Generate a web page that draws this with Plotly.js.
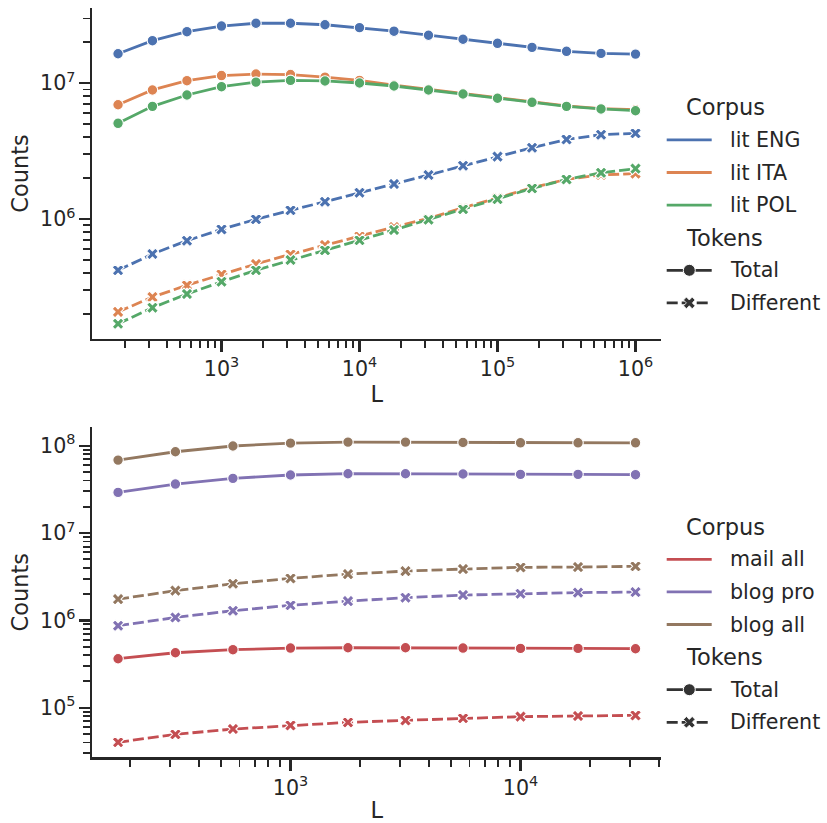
<!DOCTYPE html>
<html><head><meta charset="utf-8">
<script src="https://cdn.plot.ly/plotly-3.0.1.min.js"></script>
<style>html,body{margin:0;padding:0;background:#fff}#chart{width:827px;height:823px}</style>
</head><body><div id="chart"></div>
<script>
// ---------- data ----------
const L_top = [178, 316, 562, 1000, 1778, 3162, 5623, 10000, 17783, 31623, 56234, 100000, 177828, 316228, 562341, 1000000];
const litEngTotal = [1.65e7, 2.06e7, 2.40e7, 2.64e7, 2.77e7, 2.77e7, 2.70e7, 2.57e7, 2.42e7, 2.26e7, 2.11e7, 1.97e7, 1.84e7, 1.72e7, 1.66e7, 1.64e7];
const litItaTotal = [6.95e6, 8.93e6, 1.045e7, 1.14e7, 1.17e7, 1.16e7, 1.11e7, 1.05e7, 9.67e6, 9.0e6, 8.38e6, 7.79e6, 7.28e6, 6.81e6, 6.51e6, 6.40e6];
const litPolTotal = [5.07e6, 6.76e6, 8.2e6, 9.44e6, 1.02e7, 1.05e7, 1.04e7, 1.005e7, 9.55e6, 8.93e6, 8.34e6, 7.75e6, 7.24e6, 6.76e6, 6.47e6, 6.28e6];
const litEngDiff = [4.19e5, 5.52e5, 6.92e5, 8.39e5, 9.95e5, 1.16e6, 1.34e6, 1.56e6, 1.81e6, 2.11e6, 2.47e6, 2.88e6, 3.35e6, 3.86e6, 4.18e6, 4.28e6];
const litItaDiff = [2.07e5, 2.66e5, 3.25e5, 3.91e5, 4.66e5, 5.49e5, 6.43e5, 7.45e5, 8.73e5, 1.01e6, 1.21e6, 1.43e6, 1.70e6, 1.96e6, 2.11e6, 2.16e6];
const litPolDiff = [1.69e5, 2.22e5, 2.80e5, 3.45e5, 4.19e5, 4.99e5, 5.88e5, 6.97e5, 8.3e5, 9.88e5, 1.18e6, 1.40e6, 1.68e6, 1.96e6, 2.19e6, 2.35e6];

const L_bot = [178, 316, 562, 1000, 1778, 3162, 5623, 10000, 17783, 31623];
const mailAllTotal = [3.64e5, 4.26e5, 4.62e5, 4.82e5, 4.86e5, 4.86e5, 4.82e5, 4.78e5, 4.78e5, 4.74e5];
const blogProTotal = [2.92e7, 3.64e7, 4.23e7, 4.62e7, 4.78e7, 4.78e7, 4.74e7, 4.70e7, 4.70e7, 4.66e7];
const blogAllTotal = [6.85e7, 8.53e7, 9.93e7, 1.07e8, 1.10e8, 1.10e8, 1.09e8, 1.08e8, 1.08e8, 1.08e8];
const mailAllDiff = [4.02e4, 4.96e4, 5.70e4, 6.28e4, 6.80e4, 7.17e4, 7.57e4, 7.90e4, 8.04e4, 8.18e4];
const blogProDiff = [8.69e5, 1.08e6, 1.29e6, 1.49e6, 1.66e6, 1.82e6, 1.95e6, 2.02e6, 2.08e6, 2.11e6];
const blogAllDiff = [1.75e6, 2.19e6, 2.63e6, 3.03e6, 3.39e6, 3.67e6, 3.87e6, 4.05e6, 4.08e6, 4.16e6];

const corporaTop = ['lit ENG', 'lit ITA', 'lit POL'];
const corporaBot = ['mail all', 'blog pro', 'blog all'];
const tokenLabels = ['Total', 'Different'];
const legendTitles = ['Corpus', 'Tokens'];
const xLabel = 'L';
const yLabel = 'Counts';

// ---------- styles ----------
const W = 827, H = 823;
const TXT = '#262626';
const FONT = 'DejaVu Sans';
const colTop = ['#4C72B0', '#DD8452', '#55A868'];
const colBot = ['#C44E52', '#8172B3', '#937860'];
const LW = 2.8, MS = 10.5, DASH = '11px,4px';
const px = x => x / W;
const py = y => 1 - y / H;

function series(x, y, color, kind, xa, ya) {
  const diff = kind === 1;
  return {
    x: x, y: y, xaxis: xa, yaxis: ya, type: 'scatter', mode: 'lines+markers', showlegend: false,
    line: {color: color, width: LW, dash: diff ? DASH : 'solid'},
    marker: {symbol: diff ? 'x' : 'circle', size: MS, color: color, line: {color: '#ffffff', width: 1.1}},
    hoverinfo: 'x+y'
  };
}

const topTot = [litEngTotal, litItaTotal, litPolTotal];
const topDif = [litEngDiff, litItaDiff, litPolDiff];
const botTot = [mailAllTotal, blogProTotal, blogAllTotal];
const botDif = [mailAllDiff, blogProDiff, blogAllDiff];

const traces = [];
for (let i = 0; i < 3; i++) {
  traces.push(series(L_top, topTot[i], colTop[i], 0, 'x', 'y'));
  traces.push(series(L_top, topDif[i], colTop[i], 1, 'x', 'y'));
}
for (let i = 0; i < 3; i++) {
  traces.push(series(L_bot, botTot[i], colBot[i], 0, 'x2', 'y2'));
  traces.push(series(L_bot, botDif[i], colBot[i], 1, 'x2', 'y2'));
}

function axis(domain, range, anchor, title, standoff) {
  return {
    domain: domain, range: range, type: 'log', anchor: anchor,
    showline: true, linecolor: TXT, linewidth: 2.3, mirror: false,
    showgrid: false, zeroline: false,
    ticks: 'outside', ticklen: 11, tickwidth: 2.3, tickcolor: TXT,
    tick0: 0, dtick: 1, exponentformat: 'power', showexponent: 'all',
    tickfont: {family: FONT, size: 16.5, color: TXT},
    minor: {ticks: 'outside', ticklen: 7, tickwidth: 1.9, tickcolor: TXT, dtick: 'D1', showgrid: false},
    title: {text: title, font: {family: FONT, size: 22.5, color: TXT}, standoff: standoff},
    automargin: false, fixedrange: true
  };
}

const XD = [px(92.1), px(661.4)];
const layout = {
  width: W, height: H,
  margin: {l: 0, r: 0, t: 0, b: 0, pad: 0},
  paper_bgcolor: '#ffffff', plot_bgcolor: '#ffffff',
  font: {family: FONT, color: TXT},
  showlegend: false,
  xaxis: axis(XD, [2.0625, 6.1875], 'y', xLabel, 5),
  yaxis: axis([py(338.8), py(8.2)], [5.1173, 7.5532], 'x', yLabel, 5),
  xaxis2: axis(XD, [2.1375, 4.6125], 'y2', xLabel, 5),
  yaxis2: axis([py(757.3), py(427.1)], [4.4323, 8.2133], 'x2', yLabel, 5),
  shapes: [], annotations: []
};

// ---------- hand-built legends (seaborn style) ----------
function addText(txt, x, y, size) {
  layout.annotations.push({xref: 'paper', yref: 'paper', x: px(x), y: py(y), xanchor: 'left', yanchor: 'middle',
    text: txt, showarrow: false, font: {family: FONT, size: size, color: TXT}, borderpad: 0});
}
function addLine(y, color, dash) {
  layout.shapes.push({type: 'line', xref: 'paper', yref: 'paper', x0: px(666.7), x1: px(711.7), y0: py(y), y1: py(y),
    line: {color: color, width: LW, dash: dash}});
}
function addCircle(y) {
  const r = 6;
  layout.shapes.push({type: 'circle', xref: 'paper', yref: 'paper', xsizemode: 'pixel', ysizemode: 'pixel',
    xanchor: px(689.3), yanchor: py(y), x0: -r, x1: r, y0: -r, y1: r,
    fillcolor: '#333333', line: {color: '#ffffff', width: 1.0}});
}
function addX(y) {
  const s = 2.9;
  const pts = [[-1,-2],[0,-1],[1,-2],[2,-1],[1,0],[2,1],[1,2],[0,1],[-1,2],[-2,1],[-1,0],[-2,-1]];
  const path = 'M' + pts.map(p => (p[0]*s).toFixed(2) + ',' + (p[1]*s).toFixed(2)).join('L') + 'Z';
  layout.shapes.push({type: 'path', xref: 'paper', yref: 'paper', xsizemode: 'pixel', ysizemode: 'pixel',
    xanchor: px(689.3), yanchor: py(y), path: path,
    fillcolor: '#333333', line: {color: '#ffffff', width: 0.8}});
}
function legend(top, names, colors) {
  const step = 32.6;
  addText(legendTitles[0], 685, top, 22.5);
  for (let i = 0; i < 3; i++) {
    const y = top + step * (i + 1);
    addLine(y, colors[i], 'solid');
    addText(names[i], 729.3, y, 20.6);
  }
  const t2 = top + step * 4;
  addText(legendTitles[1], 685, t2, 22.5);
  addLine(t2 + step, '#333333', 'solid');
  addCircle(t2 + step);
  addText(tokenLabels[0], 729.3, t2 + step, 20.6);
  addLine(t2 + 2 * step, '#333333', DASH);
  addX(t2 + 2 * step);
  addText(tokenLabels[1], 729.3, t2 + 2 * step, 20.6);
}
legend(107.3, corporaTop, colTop);
legend(526.7, corporaBot, colBot);

Plotly.newPlot('chart', traces, layout, {displayModeBar: false, staticPlot: true});
</script>
</body></html>
